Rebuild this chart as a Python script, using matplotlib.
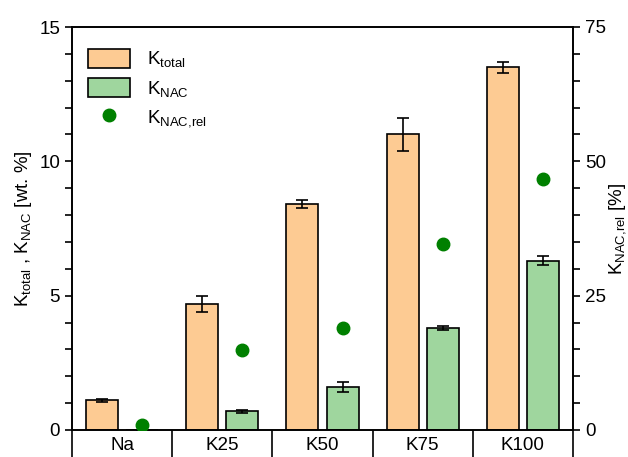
import numpy as np
import matplotlib.pyplot as plt
from matplotlib.ticker import MultipleLocator, FixedLocator, NullFormatter

plt.rcParams['font.family'] = ['Liberation Sans', 'DejaVu Sans']

samples = ['Na', 'K25', 'K50', 'K75', 'K100']
k_total = [1.1, 4.7, 8.4, 11.0, 13.5]
k_total_err = [0.07, 0.3, 0.15, 0.6, 0.2]
k_nac = [0.0, 0.7, 1.6, 3.8, 6.3]
k_nac_err = [0.0, 0.06, 0.18, 0.08, 0.17]
k_nac_rel = [0.9, 14.9, 19.0, 34.7, 46.8]

orange = '#fdcb93'
green = '#9fd69e'
dot_green = '#008000'
fs = 13.5

x = np.arange(len(samples))
w = 0.32

fig = plt.figure(figsize=(6.28, 4.57), dpi=100)
ax = fig.add_axes([72/628, 27/457, 501/628, 403/457])

ax.bar(x - 0.2, k_total, w, color=orange, edgecolor='black', linewidth=1.2,
       yerr=k_total_err, capsize=4, error_kw=dict(elinewidth=1.2, capthick=1.2),
       label='K$_{\\mathregular{total}}$', zorder=2)
ax.bar(x + 0.2, k_nac, w, color=green, edgecolor='black', linewidth=1.2,
       yerr=k_nac_err, capsize=4, error_kw=dict(elinewidth=1.2, capthick=1.2),
       label='K$_{\\mathregular{NAC}}$', zorder=2)

ax2 = ax.twinx()
ax2.plot(x + 0.2, k_nac_rel, 'o', color=dot_green, markersize=9,
         label='K$_{\\mathregular{NAC{,}rel}}$', zorder=3)

ax.set_xlim(-0.5, 4.5)
ax.set_ylim(0, 15)
ax2.set_ylim(0, 75)

# category separators below the axis, names centred between them
ax.xaxis.set_major_locator(FixedLocator(np.arange(-0.5, 5, 1)))
ax.xaxis.set_major_formatter(NullFormatter())
ax.xaxis.set_minor_locator(FixedLocator(x))
ax.set_xticklabels(samples, minor=True)
ax.tick_params(axis='x', which='major', direction='out', length=20, width=1.2)
ax.tick_params(axis='x', which='minor', length=0, pad=5, labelsize=fs)

ax.yaxis.set_major_locator(MultipleLocator(5))
ax.yaxis.set_minor_locator(MultipleLocator(1))
ax.tick_params(axis='y', which='major', direction='out', length=5, width=1.2, labelsize=fs)
ax.tick_params(axis='y', which='minor', direction='out', length=5, width=1.2)

ax2.yaxis.set_major_locator(MultipleLocator(25))
ax2.yaxis.set_minor_locator(MultipleLocator(5))
ax2.tick_params(axis='y', which='major', direction='out', length=5, width=1.2, labelsize=fs)
ax2.tick_params(axis='y', which='minor', direction='out', length=5, width=1.2)

for a in (ax, ax2):
    for s in a.spines.values():
        s.set_linewidth(1.2)

ax.set_ylabel('K$_{\\mathregular{total}}$ , K$_{\\mathregular{NAC}}$ [wt. %]', fontsize=fs, labelpad=4)
ax2.set_ylabel('K$_{\\mathregular{NAC{,}rel}}$ [%]', fontsize=fs, rotation=90)
ax2.yaxis.set_label_coords(1.07, 0.5)

h1, l1 = ax.get_legend_handles_labels()
h2, l2 = ax2.get_legend_handles_labels()
ax.legend(h1 + h2, l1 + l2, loc='upper left', bbox_to_anchor=(0.032, 0.945),
          borderpad=0, borderaxespad=0, frameon=False, fontsize=fs,
          handlelength=2.24, handleheight=1.2, labelspacing=0.42,
          handletextpad=0.9)

fig.savefig('out.png', dpi=100)
